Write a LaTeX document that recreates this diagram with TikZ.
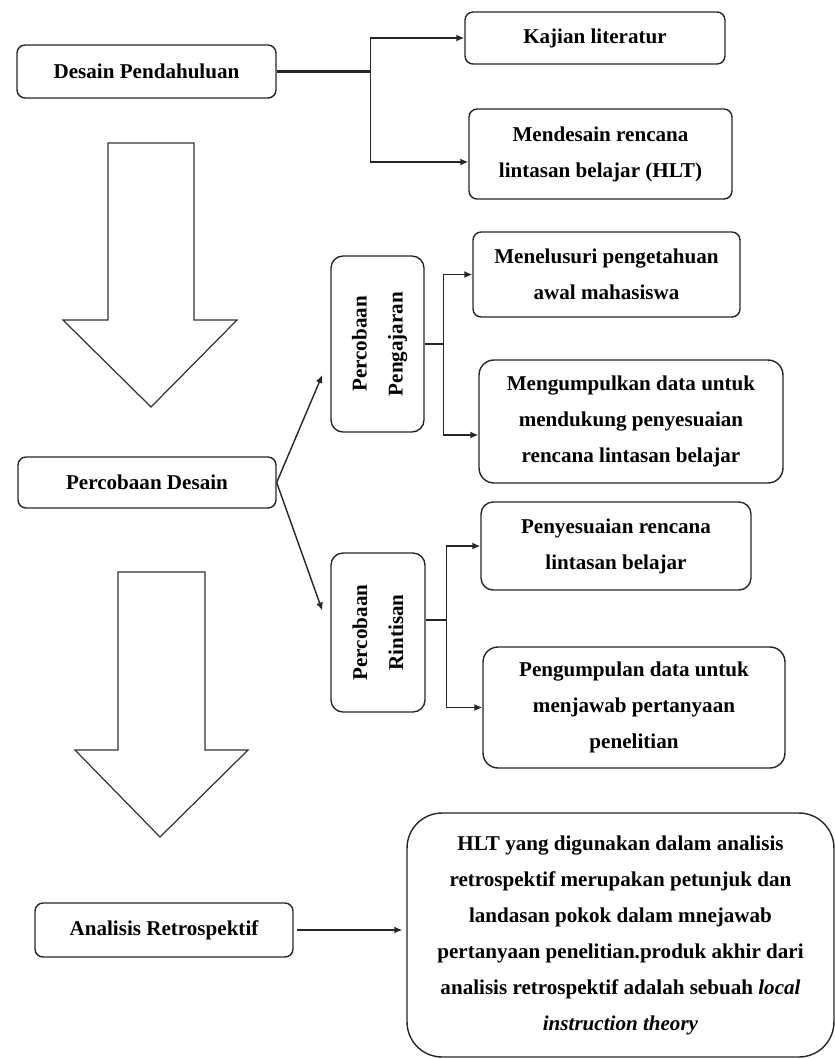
\documentclass[tikz,border=0pt]{standalone}
\usepackage{fontspec}
\setmainfont{Liberation Serif}
\usepackage{graphicx}
\usetikzlibrary{arrows.meta}

\begin{document}
\begin{tikzpicture}[x=0.02cm,y=-0.02cm,
  kotak/.style={draw=black!85,line width=0.8pt,rounded corners=0.16cm,align=center,
    font=\bfseries\fontsize{12}{20.5}\selectfont},
  panah/.style={draw=black!85,line width=0.8pt,-{Latex[length=1.6mm,width=1.4mm]}},
  garis/.style={draw=black!85,line width=0.8pt},
  blok/.style={draw=black!80,line width=0.7pt}]
\useasboundingbox (0,0) rectangle (835,1059);
\node[kotak,minimum width=5.18cm,minimum height=1.06cm] (desain) at (146.5,71.5) {Desain Pendahuluan};
\node[kotak,minimum width=5.2cm,minimum height=1.04cm] (kajian) at (595,38) {Kajian literatur};
\node[kotak,minimum width=5.26cm,minimum height=1.8cm] (hlt) at (600.5,154) {Mendesain rencana\\lintasan belajar (HLT)};
\node[kotak,rounded corners=0.24cm,minimum width=1.86cm,minimum height=3.52cm] (ajar) at (377.5,344)
  {\rotatebox{90}{\begin{tabular}{@{}c@{}}Percobaan\\Pengajaran\end{tabular}}};
\node[kotak,minimum width=5.34cm,minimum height=1.7cm] (telusur) at (606.5,274.5) {Menelusuri pengetahuan\\awal mahasiswa};
\node[kotak,rounded corners=0.3cm,minimum width=6.08cm,minimum height=2.46cm] (kumpul) at (631,421.5)
  {Mengumpulkan data untuk\\mendukung penyesuaian\\rencana lintasan belajar};
\node[kotak,minimum width=5.16cm,minimum height=1.02cm] (coba) at (147,482.5) {Percobaan Desain};
\node[kotak,rounded corners=0.24cm,minimum width=1.88cm,minimum height=3.18cm] (rintis) at (378,632.5)
  {\rotatebox{90}{\begin{tabular}{@{}c@{}}Percobaan\\Rintisan\end{tabular}}};
\node[kotak,rounded corners=0.24cm,minimum width=5.4cm,minimum height=1.76cm] (sesuai) at (616,546) {Penyesuaian rencana\\lintasan belajar};
\node[kotak,rounded corners=0.3cm,minimum width=6.04cm,minimum height=2.42cm] (jawab) at (634,707.5)
  {Pengumpulan data untuk\\menjawab pertanyaan\\penelitian};
\node[kotak,minimum width=5.16cm,minimum height=1.08cm] (analisis) at (164,930) {Analisis Retrospektif};
\node[kotak,rounded corners=0.7cm,minimum width=8.54cm,minimum height=4.88cm] (teori) at (620.5,935)
  {HLT yang digunakan dalam analisis\\retrospektif merupakan petunjuk dan\\landasan pokok dalam mnejawab\\pertanyaan penelitian.produk akhir dari\\analisis retrospektif adalah sebuah \textit{local}\\\textit{instruction theory}};
\draw[blok] (108,143) -- (194,143) -- (194,320) -- (237,320) -- (151,407) -- (63,320) -- (108,320) -- cycle;
\draw[blok] (118,572) -- (205,572) -- (205,750) -- (248,750) -- (160,837) -- (75,750) -- (118,750) -- cycle;
\coordinate (c1) at ([xshift=1.88cm]desain.east);
\draw[garis,line width=1.4pt] (desain.east) -- (c1);
\draw[panah] (c1) |- (kajian.west);
\draw[panah] (c1) |- ([yshift=-0.16cm]hlt.west);
\draw[panah] (coba.east) -- ([xshift=-0.16cm,yshift=-0.62cm]ajar.west);
\draw[panah] (coba.east) -- ([xshift=-0.16cm,yshift=0.44cm]rintis.west);
\coordinate (c2) at ([xshift=0.38cm]ajar.east);
\draw[garis] (ajar.east) -- (c2);
\draw[panah] (c2) |- (telusur.west);
\draw[panah] (c2) |- ([yshift=-0.27cm]kumpul.west);
\coordinate (c3) at ([xshift=0.42cm,yshift=0.25cm]rintis.east);
\draw[garis] ([yshift=0.25cm]rintis.east) -- (c3);
\draw[panah] (c3) |- (sesuai.west);
\draw[panah] (c3) |- (jawab.west);
\draw[panah,shorten <=0.06cm,shorten >=0.08cm] (analisis.east) -- (analisis.east -| teori.west);
\end{tikzpicture}
\end{document}
